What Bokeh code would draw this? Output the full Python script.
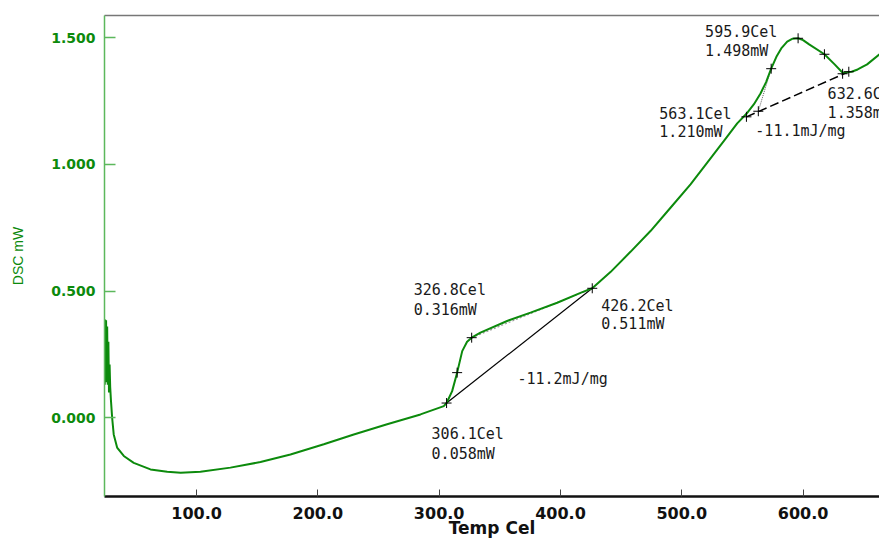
from bokeh.plotting import figure
from bokeh.models import Range1d, FixedTicker, PrintfTickFormatter, LinearAxis, ColumnDataSource
from bokeh.core.properties import value
from bokeh.embed import file_html
from bokeh.resources import INLINE

# ---------------- data ----------------
temp = [24.3, 24.6, 25.0, 25.4, 25.8, 26.3, 26.8, 27.3, 27.8, 28.3, 28.8, 29.4,
        30.4, 31.7, 34.5, 40.0, 48.2, 62.0, 75.8, 86.9, 103.2, 127.9, 152.7,
        177.4, 204.9, 229.6, 257.1, 284.6, 303.8, 306.1, 310.7, 314.8,
        319.0, 323.0, 326.8, 334.0, 356.0, 375.3, 397.3, 416.5, 426.2, 441.2,
        457.7, 474.2, 490.7, 507.2, 521.0, 534.6, 545.7, 553.3, 559.5, 564.9,
        569.5, 573.7, 578.0, 582.0, 586.9, 591.0, 595.9, 600.0, 605.0, 617.6,
        626.0, 632.6, 640.0, 645.0, 652.8, 663.0]
dsc = [0.13, 0.388, 0.16, 0.385, 0.14, 0.36, 0.13, 0.30, 0.10, 0.21, 0.12, 0.07,
       0.00, -0.066, -0.118, -0.151, -0.178, -0.204, -0.213, -0.217, -0.213,
       -0.197, -0.175, -0.145, -0.105, -0.066, -0.026, 0.013, 0.046, 0.058,
       0.105, 0.178, 0.263, 0.300, 0.316, 0.336, 0.382, 0.415, 0.454, 0.493,
       0.511, 0.575, 0.655, 0.737, 0.829, 0.921, 1.007, 1.092, 1.162, 1.200,
       1.238, 1.280, 1.325, 1.378, 1.425, 1.458, 1.485, 1.496, 1.498, 1.491,
       1.474, 1.435, 1.395, 1.362, 1.366, 1.375, 1.395, 1.435]

x_ticks = [100, 200, 300, 400, 500, 600]
y_ticks = [0.0, 0.5, 1.0, 1.5]

# annotated analysis points
pt_temp = [306.1, 326.8, 426.2, 563.1, 595.9, 632.6]
pt_dsc = [0.058, 0.316, 0.511, 1.210, 1.498, 1.358]

# cross markers placed by the analysis software
mark_temp = [306.1, 314.8, 326.8, 426.2, 553.3, 563.1, 573.7, 595.9, 617.6, 632.6, 637.7]
mark_dsc = [0.058, 0.178, 0.316, 0.511, 1.188, 1.210, 1.378, 1.498, 1.435, 1.358, 1.366]

# baselines / tangents
base1_temp = [306.1, 426.2]
base1_dsc = [0.058, 0.511]
tan1_temp = [326.8, 426.2]
tan1_dsc = [0.316, 0.511]
base2_temp = [553.3, 637.7]
base2_dsc = [1.188, 1.366]
tan2_temp = [563.1, 573.7]
tan2_dsc = [1.210, 1.378]

enthalpy = ["-11.2mJ/mg", "-11.1mJ/mg"]

# ---------------- layout of the labels (pixel offsets) ----------------
pt_offsets = [(-15, 31, 51), (-58, -48, -28), (9, 18, 36),
              (-99, 2.5, 20.5), (-93, -6.6, 12.7), (-15, 20.6, 39.6)]
enth_offsets = [(-2, 33), (-3, 20)]

lab_x, lab_y, lab_t, lab_xo, lab_yo = [], [], [], [], []
for (t, v), (xo, y1, y2) in zip(zip(pt_temp, pt_dsc), pt_offsets):
    lab_x += [t, t]
    lab_y += [v, v]
    lab_t += ["%.1fCel" % t, "%.3fmW" % v]
    lab_xo += [xo, xo]
    lab_yo += [y1, y2]
# enthalpy labels: first one at the middle of its baseline, second one at onset point
enth_x = [(base1_temp[0] + base1_temp[1]) / 2, pt_temp[3]]
enth_y = [(base1_dsc[0] + base1_dsc[1]) / 2, pt_dsc[3]]
for (ex, ey), txt, (xo, yo) in zip(zip(enth_x, enth_y), enthalpy, enth_offsets):
    lab_x.append(ex)
    lab_y.append(ey)
    lab_t.append(txt)
    lab_xo.append(xo)
    lab_yo.append(yo)

labels = ColumnDataSource(dict(x=lab_x, y=lab_y, text=lab_t, xo=lab_xo, yo=lab_yo))

GREEN = "#0c8a0c"

p = figure(width=879, height=540,
           x_range=Range1d(24.1, 663.0), y_range=Range1d(-0.311, 1.588),
           output_backend="svg", toolbar_location=None,
           min_border_left=104, min_border_right=0, min_border_top=15, min_border_bottom=44)
p.outline_line_color = None
p.grid.visible = False
p.background_fill_color = "white"
p.border_fill_color = "white"

# x axis
xa = p.xaxis[0]
xa.ticker = FixedTicker(ticks=x_ticks)
xa.formatter = PrintfTickFormatter(format="%.1f")
xa.axis_line_color = "#111111"
xa.axis_line_width = 2.5
xa.major_tick_in = 7
xa.major_tick_out = 0
xa.minor_tick_in = 0
xa.minor_tick_out = 0
xa.major_tick_line_color = "#444444"
xa.major_label_text_font = "DejaVu Sans"
xa.major_label_text_font_style = "bold"
xa.major_label_text_font_size = "16px"
xa.major_label_text_color = "#111111"
xa.major_label_standoff = 10
xa.axis_label = "Temp Cel"
xa.axis_label_text_font = "DejaVu Sans"
xa.axis_label_text_font_style = "bold"
xa.axis_label_text_font_size = "17px"
xa.axis_label_text_color = "#111111"
xa.axis_label_standoff = -4

# y axis
ya = p.yaxis[0]
ya.ticker = FixedTicker(ticks=y_ticks)
ya.formatter = PrintfTickFormatter(format="%.3f")
ya.axis_line_color = "#5cb85c"
ya.axis_line_width = 1.5
ya.major_tick_in = 11
ya.major_tick_out = 0
ya.minor_tick_in = 0
ya.minor_tick_out = 0
ya.major_tick_line_color = "#5cb85c"
ya.major_tick_line_width = 1.5
ya.major_label_text_font = "DejaVu Sans"
ya.major_label_text_font_style = "bold"
ya.major_label_text_font_size = "14px"
ya.major_label_text_color = GREEN
ya.major_label_standoff = 9
ya.axis_label = "DSC mW"
ya.axis_label_text_font = "Liberation Sans"
ya.axis_label_text_font_style = "normal"
ya.axis_label_text_font_size = "14px"
ya.axis_label_text_color = GREEN
ya.axis_label_standoff = 22

# top frame line
top = LinearAxis(ticker=FixedTicker(ticks=[]), axis_line_color="#777777", axis_line_width=1.5,
                 major_tick_in=0, major_tick_out=0, minor_tick_in=0, minor_tick_out=0,
                 major_label_text_font_size="0px", major_label_standoff=0)
p.add_layout(top, "above")

# labels first (curve drawn over them)
p.text(x="x", y="y", text="text", x_offset="xo", y_offset="yo", source=labels,
       text_font=value("DejaVu Sans Mono"), text_font_size="15px",
       text_color="#1a1a1a", text_align="left", text_baseline="alphabetic")

# baselines and tangents
p.line(base1_temp, base1_dsc, line_color="black", line_width=1.2)
p.line(tan1_temp, tan1_dsc, line_color="#9a9a9a", line_width=1.2, line_dash="2 2")
p.line(base2_temp, base2_dsc, line_color="black", line_width=1.5, line_dash="9 4")
p.line(tan2_temp, tan2_dsc, line_color="#333333", line_width=0.8, line_dash="1 1")

# DSC curve
p.line(temp, dsc, line_color=GREEN, line_width=2)

# crosses
p.scatter(mark_temp, mark_dsc, marker="cross", size=10, line_color="black", line_width=1)

open("out.html", "w").write(file_html(p, INLINE))
